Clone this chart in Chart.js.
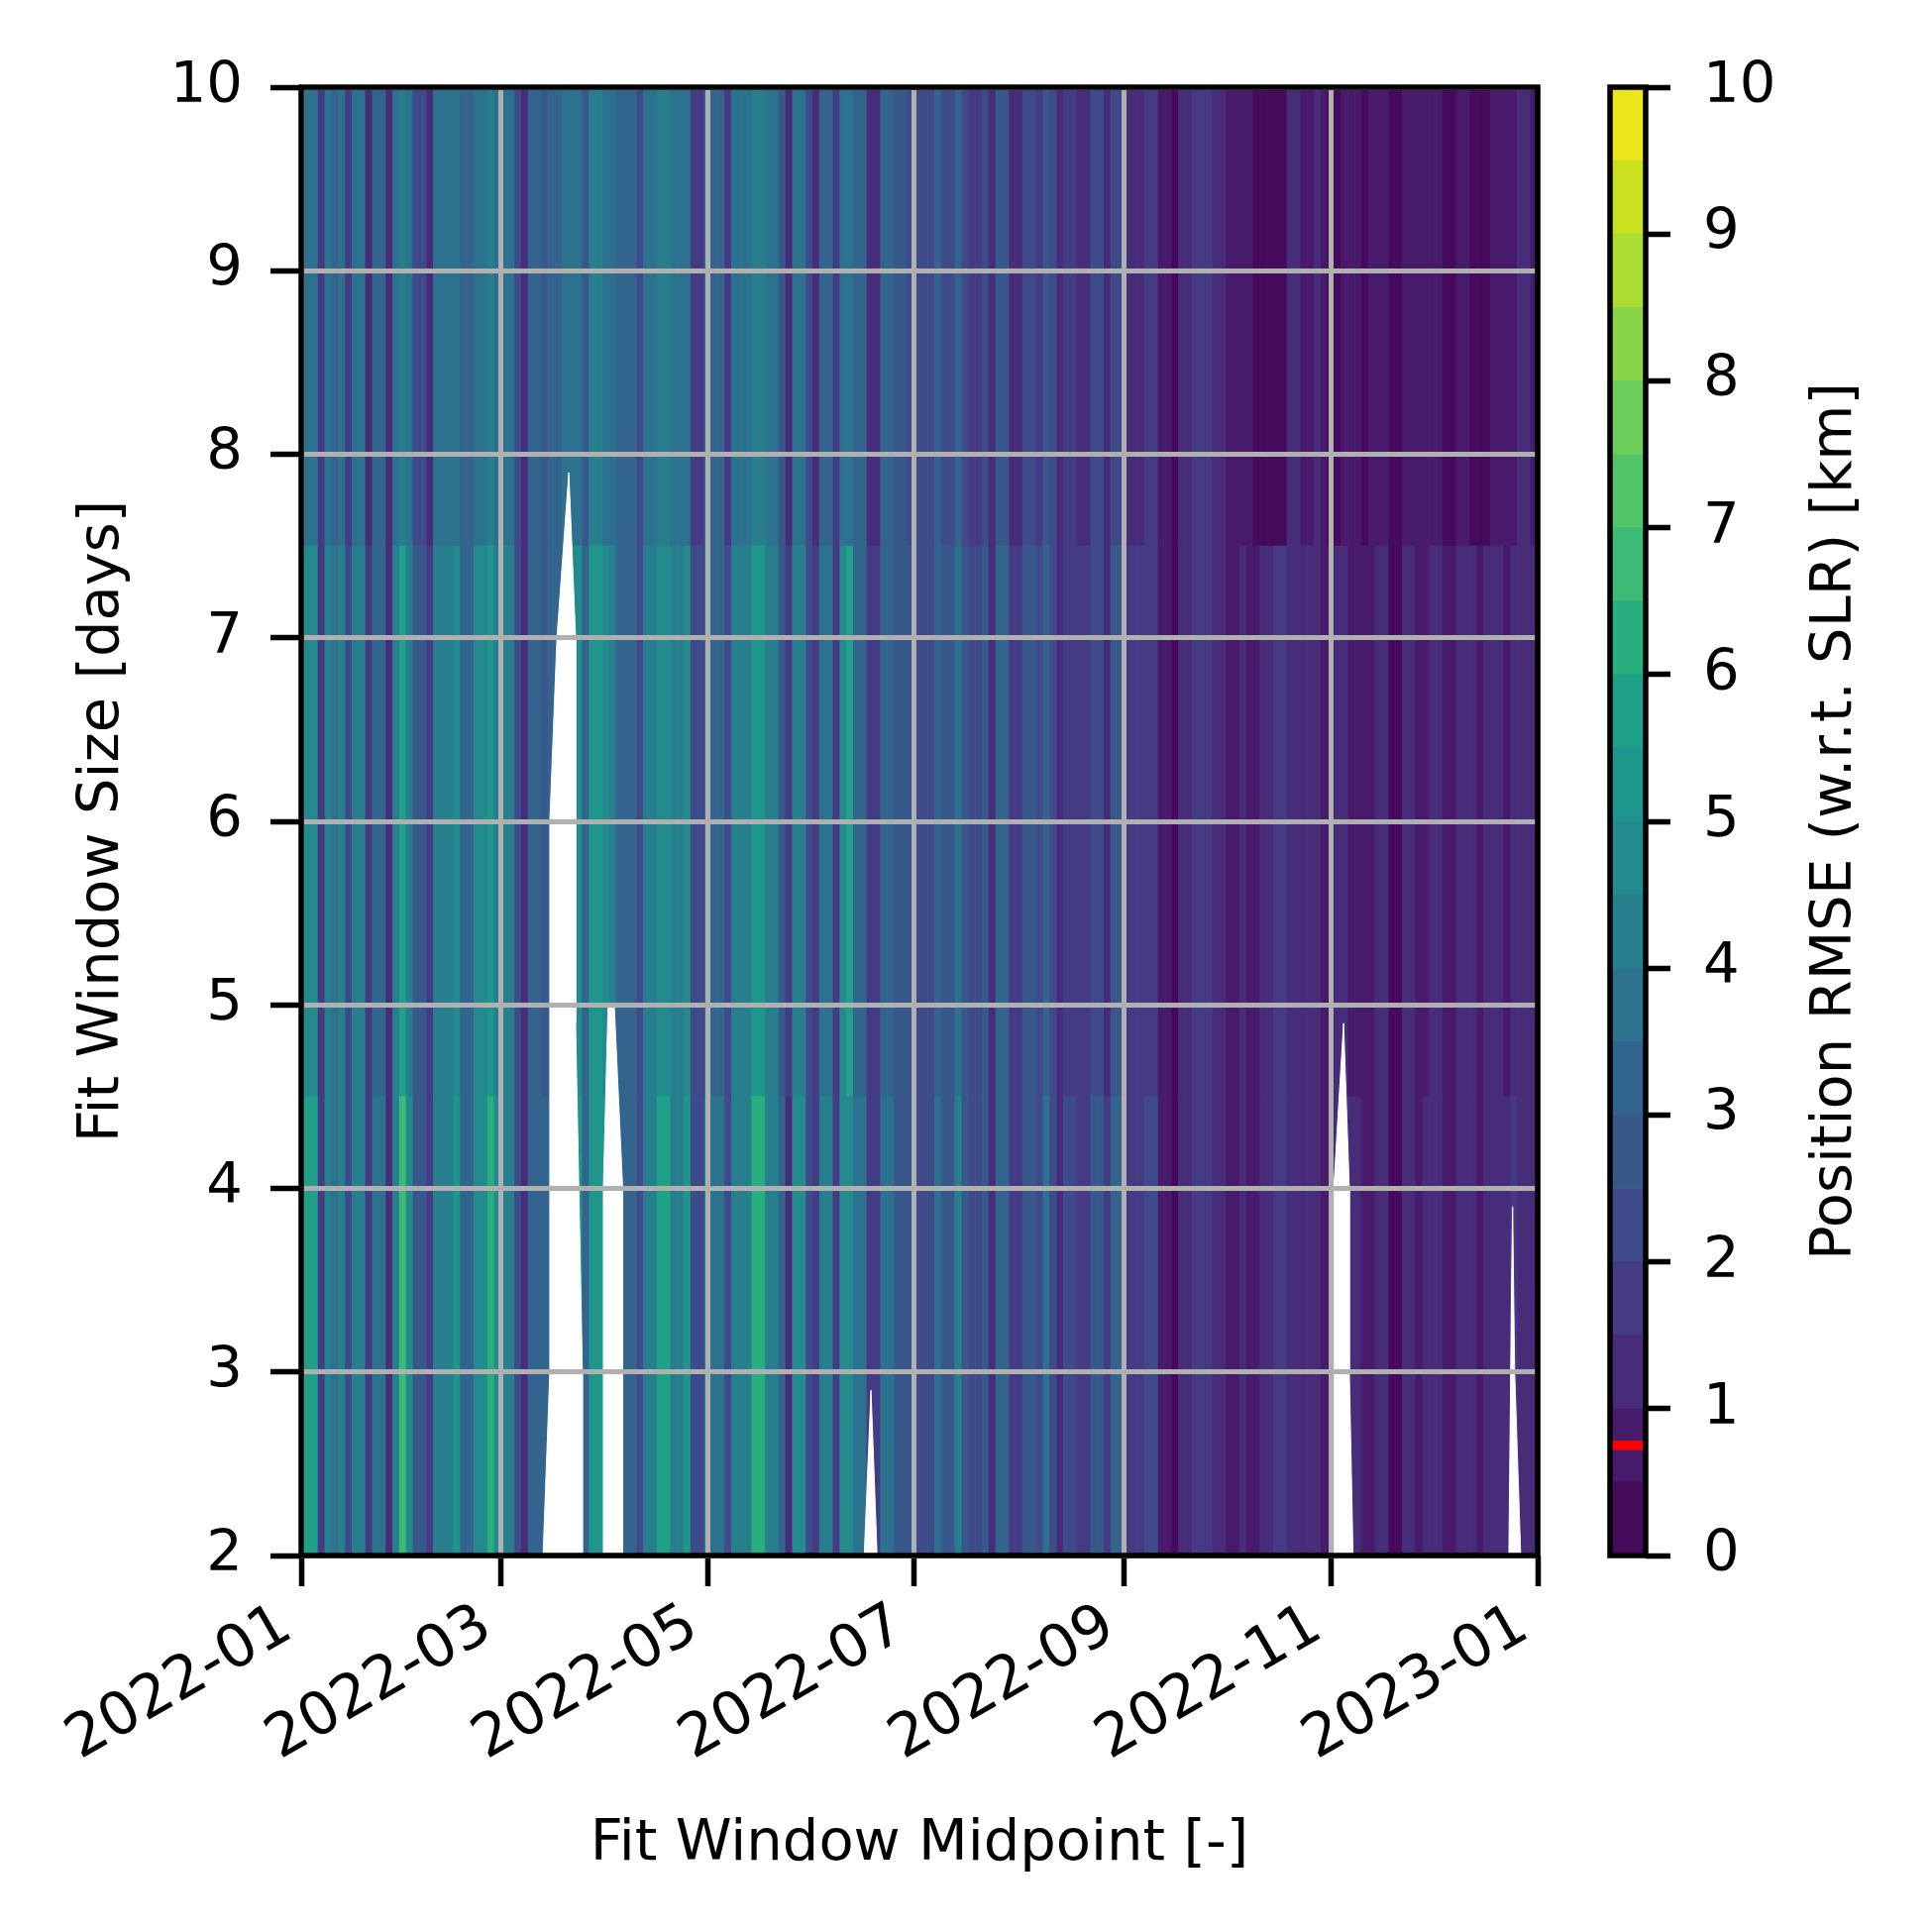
<!DOCTYPE html>
<html>
<head>
<meta charset="utf-8">
<script src="https://cdn.jsdelivr.net/npm/chart.js@4.4.1/dist/chart.umd.min.js"></script>
<style>
  html, body { margin: 0; padding: 0; background: #fff; }
  #page { position: relative; width: 1950px; height: 1950px; }
  canvas { position: absolute; top: 0; }
  #rmseChart { left: 0; }
  #colorbar { left: 1600px; }
</style>
</head>
<body>
<div id="page">
  <canvas id="rmseChart" width="1600" height="1950"></canvas>
  <canvas id="colorbar" width="350" height="1950"></canvas>
</div>
<script>
// fit window midpoints: one column every 2 days
var firstMidpoint = '2022-01-01';
var midpointStepDays = 2;

// window size bands [days] the columns are split into
var windowEdges = [2, 4.5, 7.5, 10];

// position RMSE [km] per midpoint, short windows
var rmseShort = [
  5.6, 5.6, 5.6, 1.8, 4.2, 3.8, 4.2, 2.0, 4.4, 4.4,
  1.6, 3.6, 3.6, 1.2, 4.4, 6.8, 4.8, 2.6, 2.6, 1.6,
  4.3, 4.3, 4.3, 5.0, 3.4, 3.4, 4.9, 4.9, 6.3, 4.6,
  4.4, 4.4, 2.2, 1.3, 3.4, 3.4, 3.0, 3.0, 3.0, 3.0,
  5.2, 5.2, 3.0, 5.4, 5.4, 5.4, 5.0, 3.3, 3.3, 3.3,
  2.4, 4.2, 4.2, 5.6, 5.6, 4.4, 4.4, 5.0, 2.0, 2.0,
  3.6, 3.6, 3.6, 2.0, 4.3, 4.3, 4.3, 6.0, 6.0, 4.4,
  4.4, 3.0, 1.4, 4.5, 4.5, 2.4, 1.5, 4.0, 4.0, 1.8,
  4.8, 4.8, 3.5, 3.5, 1.5, 1.5, 3.6, 3.6, 2.8, 2.8,
  2.6, 2.2, 2.2, 2.2, 3.8, 2.8, 2.8, 4.0, 2.6, 2.2,
  2.2, 2.6, 1.4, 3.3, 3.3, 1.6, 1.6, 2.8, 2.8, 2.2,
  3.5, 2.4, 1.2, 2.0, 2.0, 1.6, 1.6, 2.6, 2.6, 1.5,
  3.0, 3.0, 1.6, 1.6, 1.6, 2.0, 2.0, 0.9, 0.9, 0.4,
  1.3, 1.3, 1.8, 1.8, 1.8, 1.3, 1.3, 0.8, 0.8, 1.3,
  0.8, 0.8, 1.3, 1.3, 1.8, 1.8, 1.4, 1.4, 1.3, 1.3,
  1.3, 0.8, 0.8, 1.3, 1.3, 1.3, 1.3, 0.8, 0.8, 1.2,
  1.2, 0.4, 0.4, 1.3, 1.3, 0.6, 1.2, 1.2, 1.2, 0.5,
  0.5, 1.3, 1.3, 1.3, 0.7, 1.4, 1.4, 1.4, 1.2, 1.8,
  1.2, 1.2, 1.2
];

// medium windows
var rmseMedium = [
  4.6, 4.6, 4.6, 1.8, 4.0, 3.6, 4.0, 2.0, 4.2, 4.2,
  1.6, 3.4, 3.4, 1.3, 4.2, 5.6, 4.4, 2.6, 2.6, 1.6,
  4.0, 4.0, 4.0, 4.6, 3.2, 3.2, 4.5, 4.5, 5.2, 4.2,
  4.1, 4.1, 2.2, 1.4, 3.2, 3.2, 2.9, 3.0, 3.2, 3.5,
  4.6, 4.8, 3.0, 5.0, 5.0, 4.8, 4.4, 3.2, 3.2, 3.2,
  2.3, 4.0, 4.0, 4.9, 4.9, 4.1, 4.1, 4.5, 2.0, 2.0,
  3.4, 3.4, 3.4, 2.0, 4.0, 4.0, 4.0, 5.1, 5.1, 4.1,
  4.1, 2.9, 1.5, 4.1, 4.1, 2.3, 1.6, 3.8, 3.8, 1.8,
  4.6, 5.6, 3.3, 3.3, 1.6, 1.6, 3.3, 3.3, 2.7, 2.7,
  2.5, 2.2, 2.2, 2.2, 3.4, 2.6, 2.6, 3.6, 2.5, 2.1,
  2.1, 2.5, 1.4, 3.0, 3.0, 1.6, 1.6, 2.6, 2.6, 2.1,
  3.1, 2.2, 1.2, 1.9, 1.9, 1.5, 1.5, 2.3, 2.3, 1.4,
  2.6, 2.6, 1.5, 1.5, 1.5, 1.8, 1.8, 0.9, 0.9, 0.4,
  1.2, 1.2, 1.7, 1.7, 1.7, 1.2, 1.2, 0.7, 0.7, 1.2,
  0.7, 0.7, 1.1, 1.1, 1.5, 1.5, 1.2, 1.2, 1.1, 1.1,
  1.0, 0.7, 0.7, 1.1, 1.1, 0.9, 0.9, 0.7, 0.7, 1.1,
  1.1, 0.4, 0.4, 1.1, 1.1, 0.6, 0.9, 1.1, 1.1, 0.5,
  0.5, 1.1, 1.1, 1.1, 0.6, 1.1, 1.1, 1.1, 0.9, 1.4,
  1.1, 1.1, 1.0
];

// long windows
var rmseLong = [
  3.9, 3.9, 3.9, 1.6, 3.6, 3.3, 3.6, 1.8, 3.7, 3.7,
  1.4, 3.1, 3.1, 1.2, 3.7, 4.4, 3.8, 2.4, 2.4, 1.4,
  3.6, 3.6, 3.6, 3.9, 3.0, 3.0, 3.8, 3.8, 4.2, 3.7,
  3.6, 3.6, 2.0, 1.3, 3.0, 3.0, 2.7, 3.2, 3.2, 3.5,
  3.8, 3.9, 2.8, 4.0, 4.0, 3.9, 3.7, 3.0, 3.0, 3.0,
  2.1, 3.6, 3.6, 4.0, 4.0, 3.6, 3.6, 3.8, 1.8, 1.8,
  3.1, 3.1, 3.1, 1.8, 3.5, 3.5, 3.5, 4.0, 4.0, 3.6,
  3.6, 2.7, 1.4, 3.6, 3.6, 2.1, 1.4, 3.4, 3.4, 1.6,
  3.8, 3.8, 3.0, 3.0, 1.4, 1.4, 3.0, 3.0, 2.5, 2.5,
  2.3, 2.0, 2.0, 2.0, 3.0, 2.4, 2.4, 3.2, 2.3, 1.9,
  1.9, 2.3, 1.3, 2.7, 2.7, 1.4, 1.4, 2.4, 2.4, 1.9,
  2.8, 2.0, 1.1, 1.7, 1.7, 1.4, 1.4, 2.1, 2.1, 1.2,
  2.2, 2.2, 1.3, 1.3, 1.3, 1.6, 1.6, 0.8, 0.8, 0.4,
  1.0, 1.0, 1.6, 1.6, 1.6, 1.0, 1.0, 0.6, 0.6, 0.9,
  0.6, 0.4, 0.4, 0.4, 0.4, 0.4, 1.1, 1.1, 0.8, 0.8,
  1.2, 0.6, 0.4, 0.4, 0.8, 0.8, 0.8, 0.4, 0.7, 0.8,
  0.8, 0.4, 0.4, 0.7, 0.7, 0.6, 0.9, 0.9, 0.9, 0.4,
  0.4, 0.8, 0.8, 0.3, 0.3, 0.3, 0.8, 0.8, 0.8, 0.9,
  1.3, 1.3, 0.6
];

// regions without a solution: midpoint day and window size of their outline
var gapDays = [
  [71.4, 73.4, 73.4, 75.5, 79, 81, 81, 83, 83],
  [89.2, 89.2, 90.6, 92.4, 94.9, 94.9],
  [166.2, 168.2, 170],
  [304.8, 304.8, 307.7, 309.4, 309.4, 310.5],
  [356.5, 357.3, 357.6, 358.2, 360]
];
var gapWindows = [
  [2, 3, 6, 7, 7.9, 7, 4.9, 3, 2],
  [2, 4, 5, 5, 4, 2],
  [2, 2.9, 2],
  [2, 4, 4.9, 4, 3, 2],
  [2, 3.5, 3.9, 3, 2]
];

var tickLabels = ['2022-01', '2022-03', '2022-05', '2022-07', '2022-09', '2022-11', '2023-01'];
var rmseLevels = [0, 0.5, 1, 1.5, 2, 2.5, 3, 3.5, 4, 4.5, 5, 5.5, 6, 6.5, 7, 7.5, 8, 8.5, 9, 9.5, 10];
var referenceRmse = 0.75;

// viridis, sampled at the middle of each level band
var bandColors = ['#460a5d', '#481a6c', '#472c7a', '#443b84', '#3e4a89', '#38588c', '#32648e', '#2c718e',
  '#277f8e', '#238a8d', '#1f968b', '#1fa187', '#29ae80', '#3bbb75', '#52c569', '#6ccd5a', '#89d548',
  '#aadc32', '#cae11f', '#ebe51b'];

var fontSize = 57.6;
Chart.defaults.font.family = "'DejaVu Sans', sans-serif";
Chart.defaults.font.size = fontSize;
Chart.defaults.color = '#000';

function dayOf(s) {
  var p = s.split('-');
  return (Date.UTC(+p[0], +p[1] - 1, +(p[2] || 1)) - Date.UTC(2022, 0, 1)) / 86400000;
}

function bandColor(v) {
  for (var i = 1; i < rmseLevels.length; i++) {
    if (v < rmseLevels[i]) return bandColors[i - 1];
  }
  return bandColors[bandColors.length - 1];
}

var midpoints = rmseShort.map(function (v, i) { return dayOf(firstMidpoint) + i * midpointStepDays; });

function rowDataset(values, lo, hi) {
  return {
    type: 'bar',
    data: values.map(function (v, i) { return { x: midpoints[i], y: [lo, hi] }; }),
    backgroundColor: values.map(bandColor),
    grouped: false,
    barPercentage: 1,
    categoryPercentage: 1,
    borderWidth: 0,
    order: 1
  };
}

var gapSets = gapDays.map(function (days, g) {
  return {
    type: 'line',
    data: days.map(function (d, i) { return { x: d, y: gapWindows[g][i] }; }),
    fill: 'start',
    backgroundColor: '#fff',
    borderColor: '#fff',
    borderWidth: 1,
    pointRadius: 0,
    tension: 0,
    order: 0
  };
});

var framePlugin = {
  id: 'frame',
  afterDraw: function (chart) {
    var a = chart.chartArea, ctx = chart.ctx;
    ctx.save();
    ctx.strokeStyle = '#000';
    ctx.lineWidth = 5.5;
    ctx.strokeRect(a.left, a.top, a.right - a.left, a.bottom - a.top);
    ctx.restore();
  }
};

var gridStyle = {
  z: 1,
  color: '#b0b0b0',
  lineWidth: 5,
  offset: false,
  drawTicks: true,
  tickLength: 31,
  tickColor: '#000',
  tickWidth: 5.5
};

var rmseChart = new Chart(document.getElementById('rmseChart'), {
  type: 'bar',
  data: {
    datasets: [
      rowDataset(rmseShort, windowEdges[0], windowEdges[1]),
      rowDataset(rmseMedium, windowEdges[1], windowEdges[2]),
      rowDataset(rmseLong, windowEdges[2], windowEdges[3])
    ].concat(gapSets)
  },
  options: {
    responsive: false,
    animation: false,
    devicePixelRatio: 1,
    layout: { padding: { left: 0, top: 88, right: 48, bottom: 0 } },
    plugins: { legend: { display: false }, tooltip: { enabled: false } },
    scales: {
      x: {
        type: 'linear',
        min: dayOf(tickLabels[0]),
        max: dayOf(tickLabels[tickLabels.length - 1]),
        offset: false,
        grid: gridStyle,
        border: { display: false },
        ticks: {
          autoSkip: false,
          minRotation: 30,
          maxRotation: 30,
          padding: 5,
          labelOffset: -14,
          font: { size: 60 },
          callback: function (v, i) { return tickLabels[i]; }
        },
        afterBuildTicks: function (s) {
          s.ticks = tickLabels.map(function (l) { return { value: dayOf(l) }; });
        },
        afterFit: function (s) { s.height = 380; s.paddingLeft = 0; s.paddingRight = 0; },
        title: { display: true, text: 'Fit Window Midpoint [-]', padding: { top: 0, bottom: 53 } }
      },
      y: {
        type: 'linear',
        min: windowEdges[0],
        max: windowEdges[windowEdges.length - 1],
        grid: gridStyle,
        border: { display: false },
        ticks: { stepSize: 1, padding: 28 },
        afterFit: function (s) { s.width = 304; s.paddingTop = 0; s.paddingBottom = 0; },
        title: { display: true, text: 'Fit Window Size [days]', padding: { top: 69, bottom: 0 } }
      }
    }
  },
  plugins: [framePlugin]
});

// colorbar
var bandSets = bandColors.map(function (c, i) {
  return {
    data: [[rmseLevels[i], rmseLevels[i + 1]]],
    backgroundColor: c,
    grouped: false,
    barPercentage: 1,
    categoryPercentage: 1,
    borderWidth: 0,
    order: 1
  };
});
bandSets.push({
  data: [[referenceRmse - 0.03, referenceRmse + 0.03]],
  backgroundColor: '#ff0000',
  grouped: false,
  barPercentage: 1,
  categoryPercentage: 1,
  borderWidth: 0,
  order: 0
});

var colorbarTitle = {
  id: 'colorbarTitle',
  afterDraw: function (chart) {
    var a = chart.chartArea, ctx = chart.ctx;
    ctx.save();
    ctx.font = fontSize + "px 'DejaVu Sans', sans-serif";
    ctx.fillStyle = '#000';
    ctx.textAlign = 'center';
    ctx.textBaseline = 'middle';
    ctx.translate(253, (a.top + a.bottom) / 2);
    ctx.rotate(-Math.PI / 2);
    ctx.fillText('Position RMSE (w.r.t. SLR) [km]', 0, 0);
    ctx.restore();
  }
};

var colorbar = new Chart(document.getElementById('colorbar'), {
  type: 'bar',
  data: { labels: [''], datasets: bandSets },
  options: {
    responsive: false,
    animation: false,
    devicePixelRatio: 1,
    layout: { padding: { left: 25, top: 88, right: 0, bottom: 380 } },
    plugins: { legend: { display: false }, tooltip: { enabled: false } },
    scales: {
      x: { display: false },
      y: {
        position: 'right',
        min: rmseLevels[0],
        max: rmseLevels[rmseLevels.length - 1],
        ticks: { stepSize: 1, padding: 33 },
        grid: { drawOnChartArea: false, drawTicks: true, tickLength: 25, tickColor: '#000', tickWidth: 5.5 },
        border: { display: false },
        afterFit: function (s) { s.width = 289; s.paddingTop = 0; s.paddingBottom = 0; }
      }
    }
  },
  plugins: [framePlugin, colorbarTitle]
});
</script>
</body>
</html>
